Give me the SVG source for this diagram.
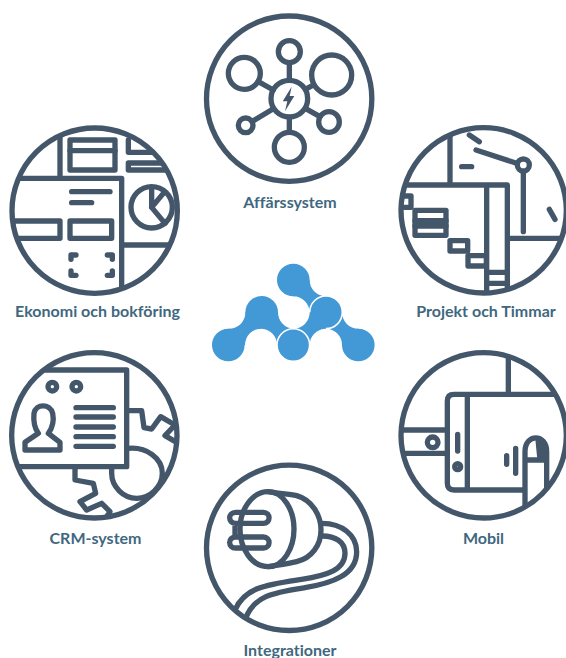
<svg xmlns="http://www.w3.org/2000/svg" width="566" height="658" viewBox="0 0 566 658">
<style>
.i{fill:none;stroke:#44576a;stroke-width:16;stroke-linecap:round;stroke-linejoin:round}
.d{fill:#44576a;stroke:none}
.b{fill:#4299d5}
.w{fill:#4299d5;stroke:#fff;stroke-width:1.6}
.l{font-family:"Lato","Liberation Sans",sans-serif;font-weight:700;font-size:16px;fill:#3f6880;text-anchor:middle;font-variant-ligatures:none}
</style>
<defs>
<clipPath id="c2"><circle cx="284" cy="272" r="248"/></clipPath>
<clipPath id="c3"><circle cx="281" cy="271" r="248"/></clipPath>
<clipPath id="c4"><circle cx="283" cy="271" r="248"/></clipPath>
<clipPath id="c5"><circle cx="281" cy="271" r="248"/></clipPath>
<clipPath id="c6"><circle cx="282.500" cy="278.500" r="248"/></clipPath>
</defs>
<g id="affarssystem">
<g transform="translate(195,0) scale(.33333)" class="i">
<circle cx="282.500" cy="296" r="248"/>
<circle cx="283" cy="296" r="55"/>
<circle cx="283" cy="155" r="33"/>
<circle cx="148" cy="220" r="48"/>
<circle cx="410" cy="225" r="60"/>
<circle cx="152" cy="376" r="22"/>
<circle cx="402" cy="366" r="31"/>
<circle cx="283" cy="442" r="45"/>
<path d="M283 190V240M283 352V396M190 245L235 270M172 364L235 326M335 266L355 255M332 326L375 350"/>
<path class="d" d="M290 260L263 304H277L270 334L298 288H284Z"/>
</g>
<text class="l" x="290" y="207.500">Affärssystem</text>
</g>
<g id="ekonomi">
<g transform="translate(0,120) scale(.33333)">
<g class="i" clip-path="url(#c2)">
<path d="M180 20V175M30 175H365V520M365 375H530"/>
<rect x="210" y="60" width="135" height="90"/>
<path d="M210 92H345"/>
<path d="M385 60V97H480M385 129V150H510M385 129H500V150M385 129V150"/>
<path d="M215 215H330M215 248H275"/>
<path d="M20 303H180V355H20"/>
<rect x="210" y="303" width="125" height="52"/>
<path d="M213 418V405H228M322 405H337V418M213 453V466H228M322 466H337V453"/>
<circle cx="455" cy="262" r="62"/>
<path d="M455 205V262L495 310M455 262L490 220"/>
</g>
<circle class="i" cx="284" cy="272" r="248"/>
</g>
<text class="l" x="97.500" y="316.500">Ekonomi och bokföring</text>
</g>
<g id="projekt">
<g transform="translate(390,120) scale(.33333)">
<g class="i" clip-path="url(#c3)">
<path d="M180 20V195M20 195H352V355H530M352 355V500M290 200V530"/>
<circle cx="400" cy="135" r="18"/>
<path d="M258 90L380 130M400 160V335M238 45L268 65M215 140H245M478 268L495 298"/>
<path d="M20 228H63V262H20"/>
<rect x="75" y="271" width="93" height="31"/>
<rect x="75" y="318" width="93" height="28"/>
<path d="M75 302V318M168 302V318M75 310H168"/>
<rect x="180" y="362" width="53" height="31"/>
<rect x="234" y="407" width="55" height="31"/>
<path d="M290 457H352M290 490H352"/>
</g>
<circle class="i" cx="281" cy="271" r="248"/>
</g>
<text class="l" x="486" y="316.500">Projekt och Timmar</text>
</g>
<g id="crm">
<g transform="translate(0,345) scale(.33333)">
<g class="i" clip-path="url(#c4)">
<path d="M130 75H380V365H30"/>
<circle cx="157" cy="125" r="13"/>
<circle cx="229" cy="125" r="13"/>
<path d="M228 188H340M228 216H340M228 246H340M228 275H340M228 304H340"/>
<path d="M75 315V292L115 265C100 245 100 225 102 205C108 175 150 175 158 205C162 225 160 245 145 265L180 292V315Z"/>
<path d="M385 197H425L432 248L455 252L482 215L525 240L495 272L540 298"/>
<path d="M385 310C440 305 487 340 487 385C487 425 450 460 410 460C370 460 335 425 335 385V368"/>
<path d="M225 370V405L280 415L287 445L240 470L260 495L305 475L330 500L310 530"/>
</g>
<circle class="i" cx="283" cy="271" r="248"/>
</g>
<text class="l" x="95.500" y="543.500">CRM-system</text>
</g>
<g id="mobil">
<g transform="translate(390,345) scale(.33333)">
<g class="i" clip-path="url(#c5)">
<path d="M355 20V148M530 148H192Q172 148 172 168V415Q172 435 192 435H400M232 148V435"/>
<path d="M20 255H170M20 325H170"/>
<circle cx="128" cy="292" r="16"/>
<path d="M203 268V318M350 332V358M377 310V385"/>
<circle cx="203" cy="365" r="9"/>
<path d="M405 520V320C405 265 470 265 470 320V425M405 345H465"/>
<path class="d" d="M436 282C460 282 470 305 470 345H442Z"/>
</g>
<circle class="i" cx="281" cy="271" r="248"/>
</g>
<text class="l" x="483.500" y="543.500">Mobil</text>
</g>
<g id="integrationer">
<g transform="translate(195,455) scale(.33333)">
<g class="i" clip-path="url(#c6)">
<path d="M220 110C265 110 297 165 297 222C297 280 265 335 220 335C170 335 135 280 135 222C135 165 170 110 220 110Z"/>
<path d="M220 110C250 116 280 116 305 122C350 135 378 180 378 225C378 270 350 310 305 320C280 326 250 330 220 335"/>
<path d="M140 172H205C228 172 228 205 205 205H122C98 205 98 172 122 172H140M140 246H205C228 246 228 279 205 279H122C98 279 98 246 122 246H140M120 205V246"/>
<path d="M382 205C440 205 485 240 485 290C485 360 410 385 330 398C240 412 175 420 150 495"/>
<path d="M382 243C420 243 450 260 450 295C450 345 395 362 320 373C220 388 150 395 120 465"/>
</g>
<circle class="i" cx="282.500" cy="278.500" r="248"/>
</g>
<text class="l" x="290" y="655.500">Integrationer</text>
</g>
<g id="logo">
<circle class="b" cx="293.300" cy="280" r="16.300"/>
<path class="b" d="M293.300 280H309.600A16.300 16.300 0 0 0 326 296.300V312.300H309.600A16.300 16.300 0 0 0 293.300 296.300Z"/>
<circle class="b" cx="358.300" cy="345" r="16.300"/>
<path class="b" d="M326 312.300H342A16.300 16.300 0 0 0 358.300 328.700V345H342A16.300 16.300 0 0 0 326 328.700Z"/>
<circle class="w" cx="326" cy="312.300" r="16.300"/>
<path class="b" d="M309.700 312.300A16.300 16.300 0 0 1 293.300 328.700V345H309.700A16.300 16.300 0 0 1 326 328.700V312.300Z"/>
<circle class="b" cx="261.700" cy="312.300" r="16.300"/>
<circle class="b" cx="228.300" cy="345" r="16.300"/>
<path class="b" d="M228.300 328.700A16.300 16.300 0 0 0 245.400 312.300H261.700V328.700A16.300 16.300 0 0 0 245 345H228.300Z"/>
<path class="b" d="M278 312.300A16.300 16.300 0 0 0 293.300 328.700V345H277A16.300 16.300 0 0 0 261.700 328.700V312.300Z"/>
<circle class="w" cx="293.300" cy="345" r="16.300"/>
</g>
</svg>
